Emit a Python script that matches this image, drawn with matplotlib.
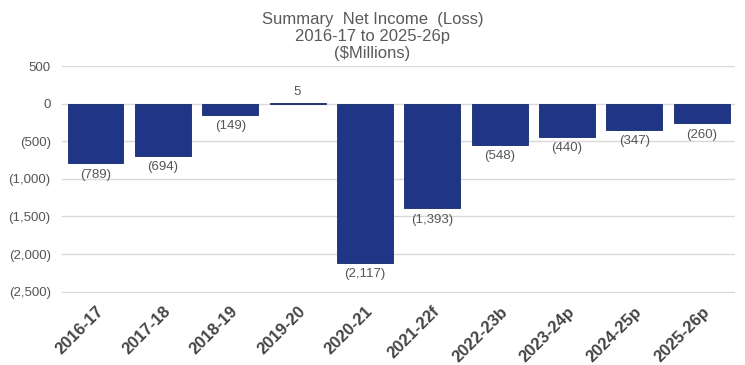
import numpy as np
import matplotlib.pyplot as plt

# Data
years = ['2016-17', '2017-18', '2018-19', '2019-20', '2020-21',
         '2021-22f', '2022-23b', '2023-24p', '2024-25p', '2025-26p']
net_income = [-789, -694, -149, 5, -2117, -1393, -548, -440, -347, -260]


def fmt(v):
    if v < 0:
        return '({:,})'.format(-v)
    return '{:,}'.format(v)


plt.rcParams['font.family'] = ['Liberation Sans', 'DejaVu Sans']

fig = plt.figure(figsize=(7.45, 3.65), dpi=100)
ax = fig.add_axes([0.083, 0.198, 0.904, 0.621])

x = np.arange(len(years))
ax.bar(x, net_income, width=0.83, color='#1f3586', edgecolor='#15286a',
       linewidth=0.6, zorder=3)

for xi, v in zip(x, net_income):
    if v < 0:
        ax.annotate(fmt(v), (xi, v), xytext=(0, -4), textcoords='offset points',
                    ha='center', va='top', fontsize=9.5, color='#555555')
    else:
        ax.annotate(fmt(v), (xi, v), xytext=(0, 4), textcoords='offset points',
                    ha='center', va='bottom', fontsize=9.5, color='#555555')

ax.set_ylim(-2515, 500)
ax.set_xlim(-0.5, len(years) - 0.5)
yt = np.arange(-2500, 501, 500)
ax.set_yticks(yt)
ax.set_yticklabels([fmt(int(t)) for t in yt], fontsize=9.5, color='#555555')
ax.set_xticks(x)
ax.set_xticklabels(years, rotation=45, ha='right', rotation_mode='anchor',
                   fontsize=12, fontweight='bold', color='#444444')
ax.tick_params(axis='both', length=0, pad=8)
ax.tick_params(axis='x', pad=8)
ax.yaxis.grid(True, color='#d9d9d9', linewidth=1, zorder=0)
for s in ax.spines.values():
    s.set_visible(False)

fig.suptitle('Summary  Net Income  (Loss)\n2016-17 to 2025-26p\n($Millions)',
             y=0.967, fontsize=12, color='#5a5a5a', linespacing=1.15)

fig.savefig('out.png', dpi=100)
